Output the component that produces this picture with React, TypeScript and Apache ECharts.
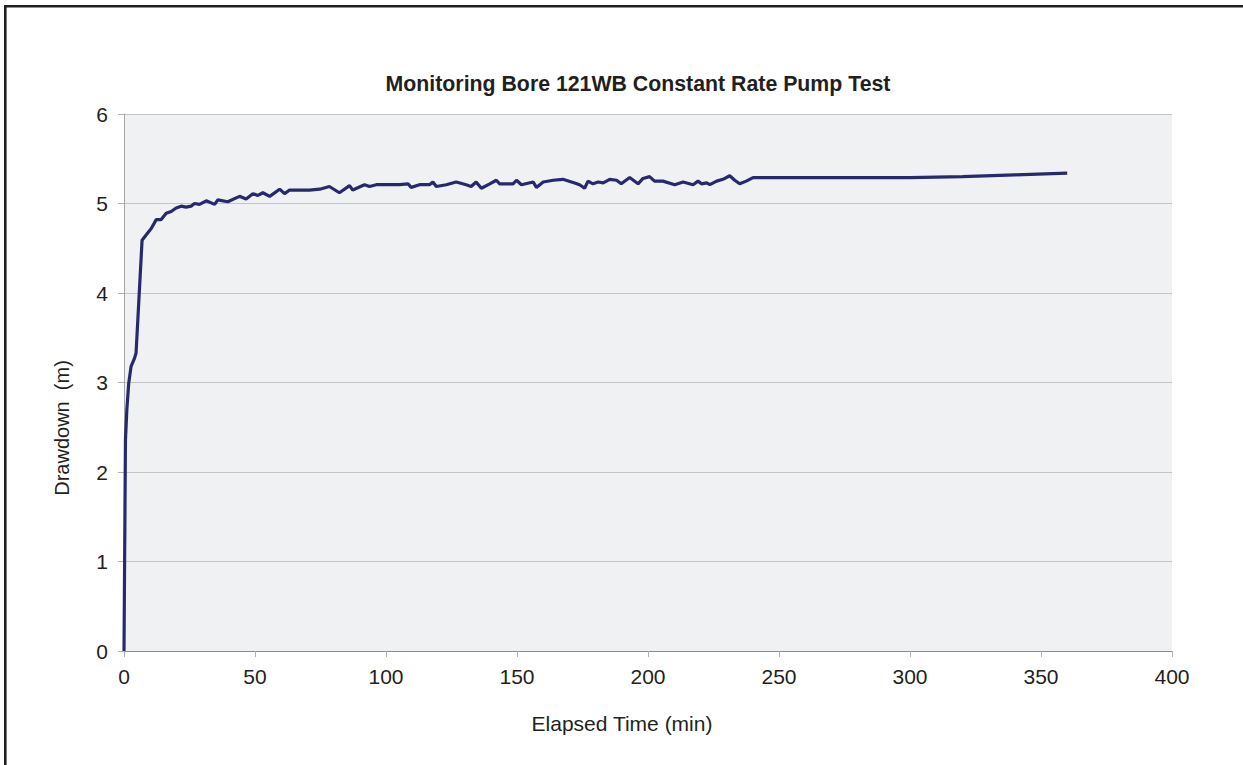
import React, { useEffect, useRef } from "react";
import * as echarts from "echarts";

const chartTitle = "Monitoring Bore 121WB Constant Rate Pump Test";
const xAxisName = "Elapsed Time (min)";
const yAxisName = "Drawdown  (m)";

const elapsedMin = [
  0, 0.55, 1.07, 1.8, 2.7, 4.0, 4.6, 6.9, 8.5, 10.4, 12.3, 14.2, 16.1, 18, 19.9, 21.8, 23.7, 25.6, 26.9, 28.8,
  31.4, 34.6, 35.8, 39.6, 44.1, 46.6, 49.2, 51.1, 53, 55.6, 59.4, 61.3, 63.2, 67, 70.8, 74.7, 78.4, 82.2, 86.1,
  87.3, 91.8, 93.7, 96.3, 100, 105.2, 108.4, 109.6, 112.8, 116.6, 117.9, 119.2, 123, 126.8, 130.6, 132.5, 134.4,
  136.4, 139.6, 142.1, 143.4, 148.5, 149.8, 151.7, 156.2, 157.4, 160, 163.8, 167.5, 172, 173.9, 175.8, 177.1,
  179, 181, 182.9, 185.4, 188, 189.8, 193, 196.2, 198.1, 200.6, 202.5, 205.7, 210.2, 213.4, 217.2, 219.1, 220.4,
  222.4, 223.6, 226.2, 228.6, 231.2, 233.1, 235, 237.5, 240.1, 277, 300, 320, 340, 360,
];

const drawdownM = [
  0, 2.35, 2.69, 2.99, 3.18, 3.27, 3.33, 4.59, 4.65, 4.72, 4.82, 4.82, 4.89, 4.91, 4.95, 4.97, 4.96, 4.97, 5.0, 4.99,
  5.03, 4.99, 5.04, 5.02, 5.08, 5.05, 5.11, 5.09, 5.12, 5.08, 5.16, 5.11, 5.15, 5.15, 5.15, 5.16, 5.19, 5.12, 5.2,
  5.15, 5.21, 5.19, 5.21, 5.21, 5.21, 5.22, 5.18, 5.21, 5.21, 5.24, 5.19, 5.21, 5.24, 5.21, 5.19, 5.24,
  5.17, 5.22, 5.26, 5.22, 5.22, 5.26, 5.21, 5.24, 5.18, 5.24, 5.26, 5.27, 5.23, 5.21, 5.17, 5.25,
  5.22, 5.24, 5.23, 5.27, 5.26, 5.22, 5.29, 5.22, 5.28, 5.3, 5.25, 5.25, 5.21, 5.24, 5.21, 5.25, 5.22,
  5.23, 5.21, 5.25, 5.27, 5.31, 5.26, 5.22, 5.25, 5.29, 5.29, 5.29, 5.3, 5.32, 5.34,
];

export default function App() {
  const ref = useRef<HTMLDivElement>(null);
  useEffect(() => {
    if (!ref.current) return;
    const chart = echarts.init(ref.current, undefined, { renderer: "svg" });
    const font = "'Liberation Sans', Arial, sans-serif";
    chart.setOption({
      animation: false,
      backgroundColor: "#ffffff",
      title: {
        text: chartTitle,
        left: 633,
        top: 68,
        textAlign: "center",
        textStyle: { fontFamily: font, fontSize: 21.3, fontWeight: "bold", color: "#231f20" },
      },
      graphic: [
        {
          type: "polyline",
          shape: { points: [[5.3, 765], [5.3, 6.2], [1243, 6.2]] },
          style: { fill: "none", stroke: "#231f20", lineWidth: 2.6 },
          silent: true,
        },
        {
          type: "text",
          x: 62,
          y: 428,
          rotation: Math.PI / 2,
          silent: true,
          style: {
            text: yAxisName,
            fontFamily: font,
            fontSize: 20,
            fill: "#231f20",
            align: "center",
            verticalAlign: "middle",
          },
        },
        {
          type: "text",
          x: 622,
          y: 723,
          silent: true,
          style: {
            text: xAxisName,
            fontFamily: font,
            fontSize: 21,
            fill: "#231f20",
            align: "center",
            verticalAlign: "middle",
          },
        },
      ],
      grid: {
        left: 124,
        right: 71,
        top: 114,
        bottom: 114,
        show: true,
        backgroundColor: "#f0f1f3",
        borderWidth: 0,
      },
      xAxis: {
        type: "value",
        min: 0,
        max: 400,
        interval: 50,
        axisLine: { show: true, lineStyle: { color: "#8c8c8c", width: 1 } },
        axisTick: { show: true, length: 6, lineStyle: { color: "#b0b0b0" } },
        axisLabel: { fontFamily: font, fontSize: 21, color: "#231f20", margin: 15 },
        splitLine: { show: false },
      },
      yAxis: {
        type: "value",
        min: 0,
        max: 6,
        interval: 1,
        axisLine: { show: true, lineStyle: { color: "#a6a6a6", width: 1 } },
        axisTick: { show: true, length: 6, lineStyle: { color: "#b0b0b0" } },
        axisLabel: { fontFamily: font, fontSize: 21, color: "#231f20", margin: 16 },
        splitLine: { show: true, lineStyle: { color: "#c4c4c4", width: 1 } },
      },
      series: [
        {
          type: "line",
          data: elapsedMin.map((t, i) => [t, drawdownM[i]]),
          showSymbol: false,
          symbol: "none",
          lineStyle: { color: "#27296f", width: 3.2 },
          z: 5,
        },
      ],
    });
    return () => chart.dispose();
  }, []);
  return (
    <div
      ref={ref}
      style={{ position: "fixed", left: 0, top: 0, width: 1243, height: 765, overflow: "hidden" }}
    />
  );
}
